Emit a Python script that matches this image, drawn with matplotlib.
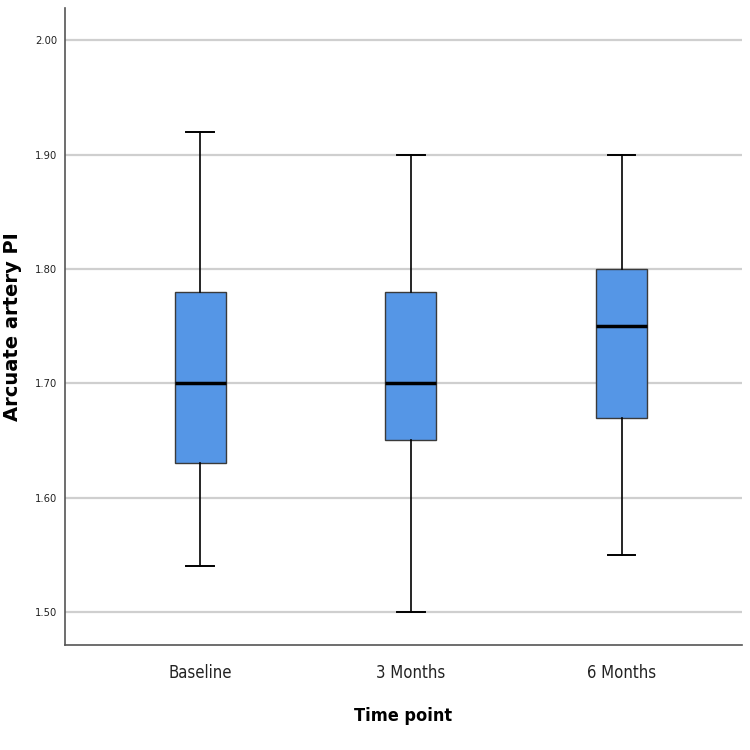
import matplotlib
matplotlib.use("Agg")
import matplotlib.pyplot as plt

# five-number summaries
labels = ["Baseline", "3 Months", "6 Months"]
mins = [1.54, 1.50, 1.55]
q1s = [1.63, 1.65, 1.67]
medians = [1.70, 1.70, 1.75]
q3s = [1.78, 1.78, 1.80]
maxs = [1.92, 1.90, 1.90]
yticks = [1.50, 1.60, 1.70, 1.80, 1.90, 2.00]

narrow = ["Liberation Sans Narrow", "DejaVu Sans"]

stats = []
for i in range(len(labels)):
    stats.append({"label": labels[i], "whislo": mins[i], "q1": q1s[i],
                  "med": medians[i], "q3": q3s[i], "whishi": maxs[i], "fliers": []})

fig = plt.figure(figsize=(7.5, 7.5), dpi=100)
ax = fig.add_axes([0.087, 0.14, 0.902, 0.849])

for y in yticks:
    ax.axhline(y, color="#cfcfcf", lw=1.6, zorder=0)

ax.bxp(stats, positions=[1, 2, 3], widths=0.242, capwidths=0.13, patch_artist=True,
       showfliers=False,
       boxprops=dict(facecolor="#5596e6", edgecolor="#3a3a3a", lw=1.0),
       medianprops=dict(color="black", lw=2.5),
       whiskerprops=dict(color="black", lw=1.2),
       capprops=dict(color="black", lw=1.4))

ax.set_xlim(0.36, 3.57)
ax.set_ylim(1.471, 2.028)
ax.set_yticks(yticks)
ax.set_yticklabels([f"{v:.2f}" for v in yticks], family=narrow, stretch="condensed",
                   fontsize=8, color="#222222")
ax.set_xticklabels(labels, family=narrow, stretch="condensed", fontsize=12, color="#222222")
ax.tick_params(length=0)
ax.tick_params(axis="x", pad=14)
ax.tick_params(axis="y", pad=6)

for s in ["top", "right"]:
    ax.spines[s].set_visible(False)
for s in ["left", "bottom"]:
    ax.spines[s].set_color("#555555")
    ax.spines[s].set_linewidth(1.2)

ax.set_ylabel("Arcuate artery PI", family="DejaVu Sans", fontsize=14, fontweight="bold")
ax.yaxis.set_label_coords(-0.064, 0.5)
ax.set_xlabel("Time point", family=narrow, stretch="condensed", fontsize=13,
              fontweight="bold", labelpad=18)

fig.savefig("out.png", dpi=100)
